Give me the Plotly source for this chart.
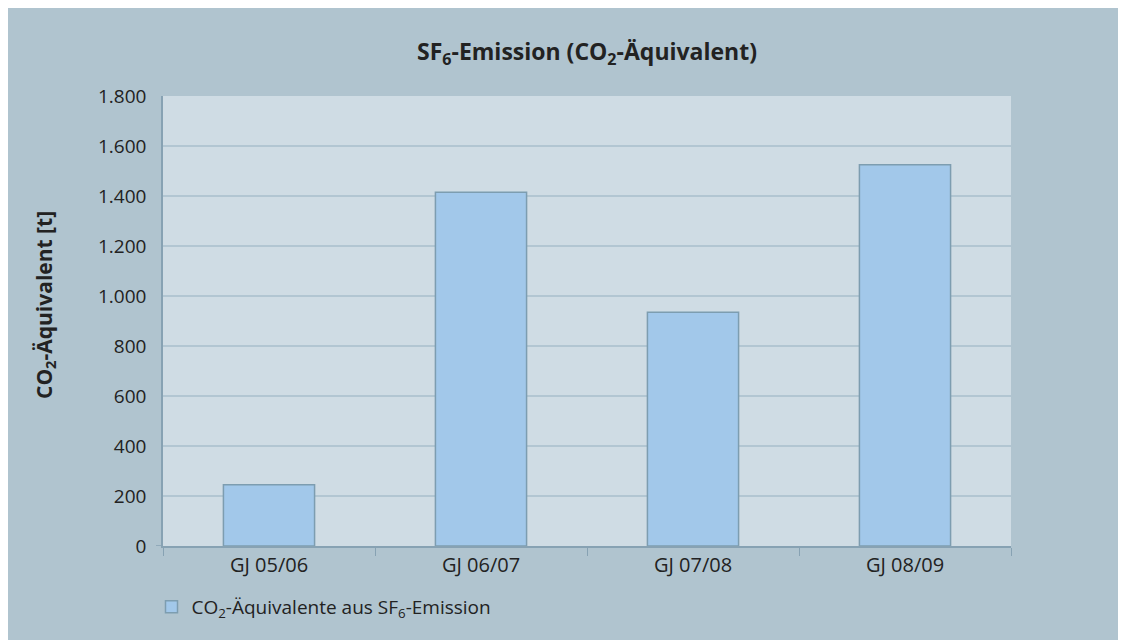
import plotly.graph_objects as go

categories = ["GJ 05/06", "GJ 06/07", "GJ 07/08", "GJ 08/09"]
values = [245, 1415, 935, 1525]
tick_vals = [0, 200, 400, 600, 800, 1000, 1200, 1400, 1600, 1800]
tick_text = ["0", "200", "400", "600", "800", "1.000", "1.200", "1.400", "1.600", "1.800"]
series_name = "CO<sub>2</sub>-Äquivalente aus SF<sub>6</sub>-Emission"
y_title = "<b>CO<sub>2</sub>-Äquivalent [t]</b>"
chart_title = "<b>SF<sub>6</sub>-Emission (CO<sub>2</sub>-Äquivalent)</b>"

W, H = 1126, 640
ML, MT = 155, 88
PW, PH = 848, 450
MR = W - ML - PW
MB = H - MT - PH

BG = "#b0c4cf"
PLOT_BG = "#cfdce4"
AXIS = "#87a2b3"
TEXT = "#222222"
FONT = "Open Sans"

fig = go.Figure()
fig.add_trace(go.Bar(
    x=categories, y=values, name=series_name,
    marker=dict(color="#a2c8ea", line=dict(color="#7d9db0", width=1.5)),
    width=0.43, showlegend=True,
))

fig.update_layout(
    width=W, height=H,
    margin=dict(l=ML, r=MR, t=MT, b=MB, pad=0),
    paper_bgcolor=BG, plot_bgcolor=PLOT_BG,
    font=dict(family=FONT, color=TEXT, size=19),
    title=dict(text=chart_title,
               x=0.5, xref="paper", xanchor="center",
               y=1 - 44 / H, yref="container", yanchor="middle",
               font=dict(size=23, family=FONT, color=TEXT)),
    showlegend=True,
    legend=dict(orientation="h", x=(143.5 - ML) / PW, xanchor="left",
                y=-(599 - (MT + PH)) / PH, yanchor="middle",
                bgcolor="rgba(0,0,0,0)", font=dict(size=19, family=FONT, color=TEXT)),
    bargap=0.57,
)

fig.update_xaxes(
    type="category", showgrid=False, showline=True, linecolor=AXIS, linewidth=1.5,
    ticks="outside", tickson="boundaries", ticklen=8, tickcolor=AXIS, tickwidth=1,
    tickfont=dict(size=20, family=FONT, color=TEXT), zeroline=False,
)
fig.update_yaxes(
    range=[0, 1800], tickvals=tick_vals, ticktext=tick_text,
    showgrid=True, gridcolor="#b2c6d2", gridwidth=1.5,
    showline=True, linecolor=AXIS, linewidth=1.5, zeroline=False,
    ticks="", ticklabelstandoff=11,
    tickfont=dict(size=19, family=FONT, color=TEXT),
)

# value-axis title
fig.add_annotation(text=y_title, xref="paper", yref="paper",
                   x=(37 - ML) / PW, y=(MT + PH - 297) / PH,
                   xanchor="center", yanchor="middle", textangle=-90,
                   showarrow=False, font=dict(size=21, family=FONT, color=TEXT))

# small tick at y = 0 on the value axis
fig.add_shape(type="line", xref="paper", yref="y", x0=-7 / PW, x1=0, y0=0, y1=0,
              line=dict(color=AXIS, width=1.5), layer="above")

fig.write_html("out.html")
